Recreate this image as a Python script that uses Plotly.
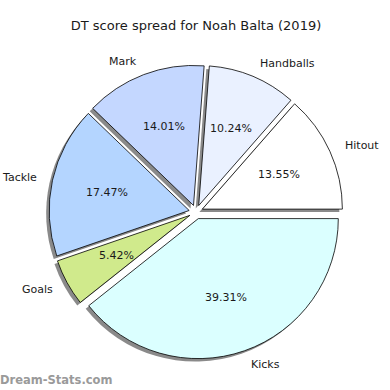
import math
import plotly.graph_objects as go

labels = ["Hitout", "Handballs", "Mark", "Tackle", "Goals", "Kicks"]
values = [13.55, 10.24, 14.01, 17.47, 5.42, 39.31]
colors = ["#ffffff", "#eaf1ff", "#c4d7ff", "#b4d5ff", "#d0ea8c", "#dbffff"]
title = "DT score spread for Noah Balta (2019)"
watermark = "Dream-Stats.com"

W = H = 390
explode = 0.05
cx, cy, R = 196, 212, 140          # pie centre and radius in pixels
half = R * (1 + explode)
x0, x1 = (cx - half) / W, (cx + half) / W
y0, y1 = (H - cy - half) / H, (H - cy + half) / H
sdx, sdy = -3 / W, -3 / H

total = sum(values)
# start at 3 o'clock, counterclockwise (plotly rotation measured clockwise from 12)
rotation = 90 - 360 * values[0] / total
pull = [explode] * len(values)

common = dict(labels=labels, values=values, sort=False, direction="counterclockwise",
              rotation=rotation, pull=pull, showlegend=False, hoverinfo="skip")

fig = go.Figure()
fig.add_trace(go.Pie(
    **common, textinfo="none",
    marker=dict(colors=["#8a8a8a"] * len(values), line=dict(width=0)),
    domain=dict(x=[x0 + sdx, x1 + sdx], y=[y0 + sdy, y1 + sdy]),
))
fig.add_trace(go.Pie(
    **common, textinfo="none",
    marker=dict(colors=colors, line=dict(color="#000000", width=0.8)),
    domain=dict(x=[x0, x1], y=[y0, y1]),
))

annotations = []
acc = 0.0
for lab, v in zip(labels, values):
    th = math.radians(360 * (acc + v / 2) / total)
    acc += v
    c, s = math.cos(th), math.sin(th)
    d = (1.1 + explode) * R
    lx, ly = cx + d * c, cy - d * s
    annotations.append(dict(text=lab, x=lx / W, y=1 - ly / H, xref="paper", yref="paper",
                            xanchor="left" if c > 0 else "right", yanchor="middle",
                            showarrow=False,
                            font=dict(family="DejaVu Sans", size=11, color="#1a1a1a")))
    d = (0.6 + explode) * R
    px, py = cx + d * c, cy - d * s
    annotations.append(dict(text=f"{v:.2f}%", x=px / W, y=1 - py / H, xref="paper", yref="paper",
                            xanchor="center", yanchor="middle", showarrow=False,
                            font=dict(family="DejaVu Sans", size=11, color="#1a1a1a")))

annotations.append(dict(text="<b>" + watermark + "</b>", xref="paper", yref="paper",
                        x=0, y=10 / H, xanchor="left", yanchor="middle", showarrow=False,
                        xshift=-2,
                        font=dict(family="DejaVu Sans", size=11.5, color="#9a9a9a")))

fig.update_layout(
    width=W, height=H,
    margin=dict(l=0, r=0, t=0, b=0),
    paper_bgcolor="white", plot_bgcolor="white",
    title=dict(text=title, x=cx / W, xanchor="center", y=1 - 25 / H, yanchor="middle",
               font=dict(family="DejaVu Sans", size=13, color="#1a1a1a")),
    annotations=annotations,
)
fig.write_html("out.html", config={"displayModeBar": False},
               post_script="document.body.style.margin='0';document.body.style.overflow='hidden';")
